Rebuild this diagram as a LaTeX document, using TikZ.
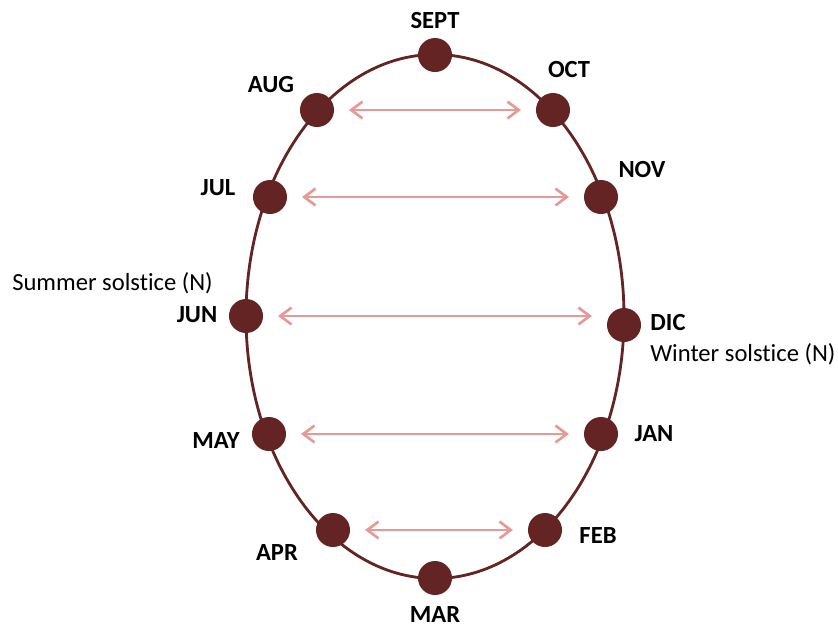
\documentclass[tikz,border=0pt]{standalone}
\usepackage{fontspec}
\setmainfont{Carlito}[Ligatures=NoCommon]
\usetikzlibrary{arrows.meta, positioning}
\definecolor{maroon}{RGB}{99,36,35}
\definecolor{rosy}{RGB}{229,154,152}
\tikzset{
    month/.style={circle, fill=maroon, minimum size=0.85cm, inner sep=0pt},
    mlabel/.style={font=\fontsize{17.5}{20}\selectfont\bfseries, inner sep=0pt, anchor=base},
    note/.style={font=\fontsize{17.5}{20}\selectfont, inner sep=0pt, anchor=base west},
    pairarrow/.style={draw=rosy, line width=1.9pt,
        {Straight Barb[length=8pt,width=12pt]}-{Straight Barb[length=8pt,width=12pt]},
        shorten >=10.5pt, shorten <=10.5pt}
}

\begin{document}
\begin{tikzpicture}[x=0.025cm, y=-0.025cm]
    \useasboundingbox (0,0) rectangle (838,626);
    % orbit
    \draw[maroon, line width=2pt] (435,316.5) ellipse [x radius=189, y radius=262];
    % months
    \node[month] (sept) at (435,55) {};
    \node[month] (oct) at (553,110) {};
    \node[month] (aug) at (317,110) {};
    \node[month] (nov) at (601,197) {};
    \node[month] (jul) at (270,197) {};
    \node[month] (jun) at (246,316) {};
    \node[month] (dic) at (624,325) {};
    \node[month] (may) at (269,434) {};
    \node[month] (jan) at (601,434) {};
    \node[month] (apr) at (333,530) {};
    \node[month] (feb) at (545,530) {};
    \node[month] (mar) at (435,578) {};
    % pairs
    \draw[pairarrow] (aug) -- (oct);
    \draw[pairarrow] (jul) -- (nov);
    \draw[pairarrow] (jun.east) -- (jun.east -| dic.west);
    \draw[pairarrow] (may) -- (jan);
    \draw[pairarrow] (apr) -- (feb);
    % labels
    \node[mlabel] (lsept) at (435,28) {SEPT};
    \node[mlabel] (loct) at (569,77) {OCT};
    \node[mlabel] (laug) at (271,92) {AUG};
    \node[mlabel] (lnov) at (642,177) {NOV};
    \node[mlabel] (ljul) at (218,195) {JUL};
    \node[mlabel] (ljun) at (197,322) {JUN};
    \node[mlabel] (ldic) at (668,330) {DIC};
    \node[mlabel] (lmay) at (216,448) {MAY};
    \node[mlabel] (ljan) at (654,441) {JAN};
    \node[mlabel] (lapr) at (277,560) {APR};
    \node[mlabel] (lfeb) at (598,543) {FEB};
    \node[mlabel] (lmar) at (435,622) {MAR};
    \node[note] (summer) at (12,290) {Summer solstice (N)};
    \node[note] (winter) at (650,361) {Winter solstice (N)};
\end{tikzpicture}
\end{document}
